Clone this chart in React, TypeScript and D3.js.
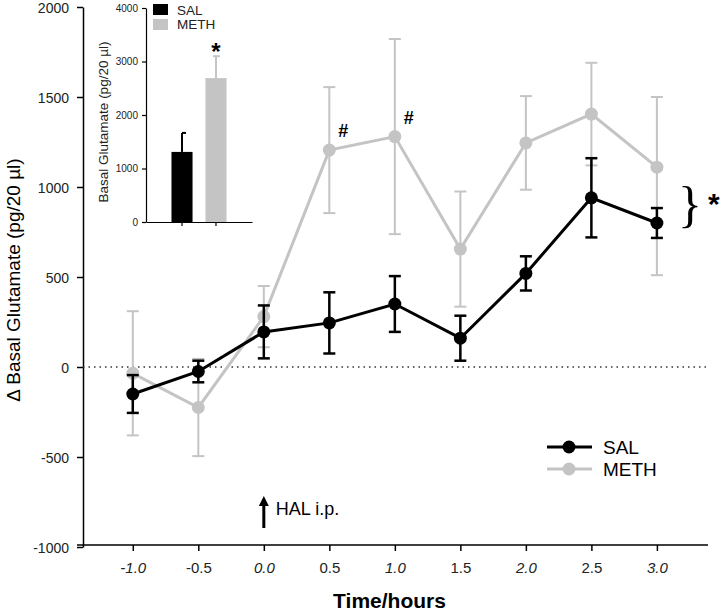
import * as d3 from "d3";
import React, { useRef, useEffect } from "react";

// time points (hours) and the two series, mean +/- SEM
const times = [-1.0, -0.5, 0.0, 0.5, 1.0, 1.5, 2.0, 2.5, 3.0];
const salMean = [-150, -25, 195, 245, 350, 160, 520, 940, 800];
const salErr = [105, 60, 147, 170, 155, 125, 95, 220, 83];
const methMean = [-35, -225, 280, 1205, 1280, 655, 1245, 1405, 1110];
const methErrUp = [345, 270, 170, 350, 542, 320, 260, 285, 390];
const methErrDown = [345, 270, 170, 350, 542, 320, 260, 285, 600];

const yTicks = [-1000, -500, 0, 500, 1000, 1500, 2000];
const xTicks = [-1.0, -0.5, 0.0, 0.5, 1.0, 1.5, 2.0, 2.5, 3.0];

// inset: basal glutamate
const insetGroups = ["SAL", "METH"];
const insetMean = [1310, 2690];
const insetErr = [355, 410];
const insetTicks = [0, 1000, 2000, 3000, 4000];

const hashTimes = [0.5, 1.0];

const BLACK = "#000";
const GRAY = "#c4c4c4";
const FONT = "'Liberation Sans', Arial, sans-serif";

const App = () => {
  const ref = useRef(null);

  useEffect(() => {
    if (!ref.current) return;
    const svg = d3.select(ref.current);
    svg.selectAll("*").remove();

    const x = d3.scaleLinear().domain([-1.38, 3.39]).range([83, 708]);
    const y = d3.scaleLinear().domain([-1000, 2000]).range([547, 7]);

    // y axis
    const yAxis = svg
      .append("g")
      .attr("transform", "translate(83,0)")
      .call(
        d3
          .axisLeft(y)
          .tickValues(yTicks)
          .tickSize(6)
          .tickSizeOuter(0)
          .tickPadding(8)
          .tickFormat((d) => String(d))
      );
    yAxis.selectAll("path,line").attr("stroke", BLACK).attr("stroke-width", 1.5);
    yAxis
      .selectAll("text")
      .style("font-family", FONT)
      .style("font-size", "14px")
      .attr("dy", "0.4em")
      .attr("fill", "#222");

    // x axis
    const xAxis = svg
      .append("g")
      .attr("transform", "translate(0,545)")
      .call(
        d3
          .axisBottom(x)
          .tickValues(xTicks)
          .tickSize(6)
          .tickSizeOuter(0)
          .tickPadding(11)
          .tickFormat((d) => d.toFixed(1))
      );
    xAxis.select(".domain").remove();
    xAxis.selectAll("line").attr("stroke", BLACK).attr("stroke-width", 1.5);
    xAxis
      .selectAll("text")
      .style("font-family", FONT)
      .style("font-size", "15px")
      .style("font-style", (d) => (Number.isInteger(d) ? "italic" : "normal"))
      .attr("fill", "#222");
    svg
      .append("line")
      .attr("x1", 77)
      .attr("x2", x.range()[1])
      .attr("y1", 545)
      .attr("y2", 545)
      .attr("stroke", BLACK)
      .attr("stroke-width", 1.5);

    // zero line
    svg
      .append("line")
      .attr("x1", 83)
      .attr("x2", x.range()[1])
      .attr("y1", y(0))
      .attr("y2", y(0))
      .attr("stroke", "#333")
      .attr("stroke-width", 1.5)
      .attr("stroke-dasharray", "1.5,4");

    // axis titles
    svg
      .append("text")
      .attr("transform", `translate(20,${(y(2000) + y(-1000)) / 2 + 3}) rotate(-90)`)
      .attr("text-anchor", "middle")
      .style("font-family", FONT)
      .style("font-size", "19px")
      .text("\u0394 Basal Glutamate (pg/20 \u00b5l)");
    svg
      .append("text")
      .attr("x", (x(-1.38) + x(3.39)) / 2 - 6)
      .attr("y", 608)
      .attr("text-anchor", "middle")
      .style("font-family", FONT)
      .style("font-size", "21px")
      .style("font-weight", "bold")
      .text("Time/hours");

    // series
    const series = [
      { name: "METH", mean: methMean, up: methErrUp, down: methErrDown, color: GRAY, sw: 3, ew: 2 },
      { name: "SAL", mean: salMean, up: salErr, down: salErr, color: BLACK, sw: 3, ew: 2.5 },
    ];
    const line = d3
      .line()
      .x((d) => x(d[0]))
      .y((d) => y(d[1]));

    series.forEach((s) => {
      const pts = times.map((t, i) => [t, s.mean[i], s.up[i], s.down[i]]);
      const g = svg.append("g");
      pts.forEach((p) => {
        const cx = x(p[0]);
        const top = y(p[1] + p[2]);
        const bot = y(p[1] - p[3]);
        g.append("line")
          .attr("x1", cx).attr("x2", cx).attr("y1", top).attr("y2", bot)
          .attr("stroke", s.color).attr("stroke-width", s.ew);
        [top, bot].forEach((yy) =>
          g.append("line")
            .attr("x1", cx - 6).attr("x2", cx + 6).attr("y1", yy).attr("y2", yy)
            .attr("stroke", s.color).attr("stroke-width", s.ew)
        );
      });
      g.append("path")
        .datum(pts)
        .attr("fill", "none")
        .attr("stroke", s.color)
        .attr("stroke-width", s.sw)
        .attr("d", line);
      g.selectAll("circle")
        .data(pts)
        .enter()
        .append("circle")
        .attr("cx", (d) => x(d[0]))
        .attr("cy", (d) => y(d[1]))
        .attr("r", 6.5)
        .attr("fill", s.color);
    });

    // # markers over METH
    hashTimes.forEach((t) => {
      const i = times.indexOf(t);
      svg
        .append("text")
        .attr("x", x(t) + 14)
        .attr("y", y(methMean[i]) - 13)
        .attr("text-anchor", "middle")
        .style("font-family", FONT)
        .style("font-size", "18px")
        .style("font-weight", "bold")
        .text("#");
    });

    // bracket + star
    const last = times.length - 1;
    const bMid = (y(methMean[last]) + y(salMean[last])) / 2 + 9;
    svg
      .append("text")
      .attr("x", x(3.0) + 33)
      .attr("y", bMid)
      .attr("text-anchor", "middle")
      .attr("dominant-baseline", "central")
      .style("font-family", "'Liberation Serif', serif")
      .style("font-size", "50px")
      .text("}");
    svg
      .append("text")
      .attr("x", x(3.0) + 57)
      .attr("y", bMid + 10)
      .attr("text-anchor", "middle")
      .style("font-family", FONT)
      .style("font-size", "30px")
      .style("font-weight", "bold")
      .text("*");

    // HAL arrow
    const ax = x(0);
    svg
      .append("line")
      .attr("x1", ax).attr("x2", ax).attr("y1", 528).attr("y2", 504)
      .attr("stroke", BLACK).attr("stroke-width", 3);
    svg
      .append("path")
      .attr("d", `M${ax - 5},506 L${ax},496 L${ax + 5},506 Z`)
      .attr("fill", BLACK);
    svg
      .append("text")
      .attr("x", ax + 12)
      .attr("y", 515)
      .style("font-family", FONT)
      .style("font-size", "18px")
      .text("HAL i.p.");

    // legend
    series
      .slice()
      .reverse()
      .forEach((s, i) => {
        const ly = 447 + i * 22;
        svg.append("line")
          .attr("x1", 547).attr("x2", 592).attr("y1", ly).attr("y2", ly)
          .attr("stroke", s.color).attr("stroke-width", 3);
        svg.append("circle").attr("cx", 569).attr("cy", ly).attr("r", 6.5).attr("fill", s.color);
        svg.append("text")
          .attr("x", 603).attr("y", ly)
          .attr("dominant-baseline", "central")
          .style("font-family", FONT)
          .style("font-size", "19px")
          .text(s.name);
      });

    // inset
    const iy = d3.scaleLinear().domain([0, 4000]).range([222, 8]);
    const ix = d3.scaleBand().domain(insetGroups).range([146, 252]).paddingInner(0.38).paddingOuter(0.75);
    const iyAxis = svg
      .append("g")
      .attr("transform", "translate(146,0)")
      .call(d3.axisLeft(iy).tickValues(insetTicks).tickSize(4).tickSizeOuter(0).tickPadding(4).tickFormat((d) => String(d)));
    iyAxis.selectAll("path,line").attr("stroke", BLACK).attr("stroke-width", 1.2);
    iyAxis.selectAll("text").style("font-family", FONT).style("font-size", "10px").attr("fill", "#222");
    const ixAxis = svg
      .append("g")
      .attr("transform", "translate(0,222)")
      .call(d3.axisBottom(ix).tickSize(4).tickSizeOuter(0).tickFormat(() => ""));
    ixAxis.selectAll("path,line").attr("stroke", BLACK).attr("stroke-width", 1.2);

    svg
      .append("text")
      .attr("transform", `translate(108,122) rotate(-90)`)
      .attr("text-anchor", "middle")
      .style("font-family", FONT)
      .style("font-size", "13.5px")
      .attr("fill", "#222")
      .text("Basal Glutamate (pg/20 \u00b5l)");

    const insetColors = [BLACK, GRAY];
    insetGroups.forEach((gname, i) => {
      const bx = ix(gname);
      const bw = ix.bandwidth();
      const cx = bx + bw / 2;
      svg.append("line")
        .attr("x1", cx).attr("x2", cx)
        .attr("y1", iy(insetMean[i])).attr("y2", iy(insetMean[i] + insetErr[i]))
        .attr("stroke", insetColors[i]).attr("stroke-width", 2);
      svg.append("line")
        .attr("x1", cx - (i === 0 ? 0 : 3)).attr("x2", cx + 4)
        .attr("y1", iy(insetMean[i] + insetErr[i])).attr("y2", iy(insetMean[i] + insetErr[i]))
        .attr("stroke", insetColors[i]).attr("stroke-width", 2);
      svg.append("rect")
        .attr("x", bx).attr("width", bw)
        .attr("y", iy(insetMean[i])).attr("height", iy(0) - iy(insetMean[i]))
        .attr("fill", insetColors[i]);
      // inset legend
      svg.append("rect")
        .attr("x", 153).attr("y", 4 + i * 15).attr("width", 15).attr("height", 11)
        .attr("fill", insetColors[i]);
      svg.append("text")
        .attr("x", 177).attr("y", 10 + i * 14.5)
        .attr("dominant-baseline", "central")
        .style("font-family", FONT)
        .style("font-size", "13.5px")
        .attr("fill", "#222")
        .text(gname);
    });
    svg
      .append("text")
      .attr("x", ix("METH") + ix.bandwidth() / 2)
      .attr("y", iy(insetMean[1] + insetErr[1]) + 4)
      .attr("text-anchor", "middle")
      .style("font-family", FONT)
      .style("font-size", "24px")
      .style("font-weight", "bold")
      .text("*");
  }, []);

  return (
    <svg
      ref={ref}
      width={720}
      height={611}
      style={{ position: "absolute", left: 0, top: 0, background: "#fff" }}
    />
  );
};

export default App;
